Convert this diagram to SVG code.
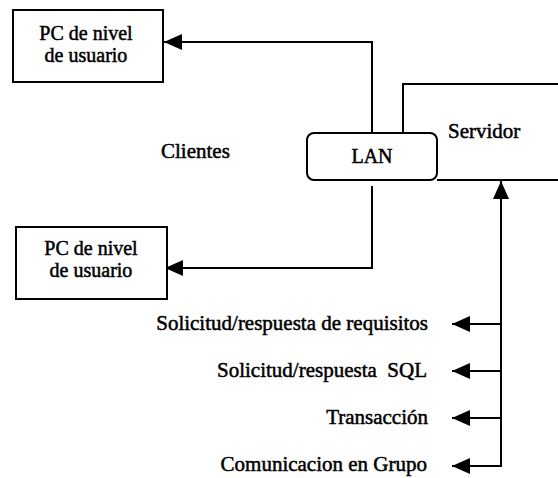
<svg xmlns="http://www.w3.org/2000/svg" width="558" height="478" viewBox="0 0 558 478">
<style>
  .box { fill: #fff; stroke: #000; stroke-width: 2; }
  .ln { fill: none; stroke: #000; stroke-width: 2; }
  .t { font-family: "Liberation Serif", "Times New Roman", serif; fill: #000; stroke: #000; stroke-width: 0.5; }
  .s20 { font-size: 20px; }
  .s21 { font-size: 21px; }
</style>
<defs>
  <marker id="arr" markerUnits="userSpaceOnUse" markerWidth="18" markerHeight="16" refX="18" refY="8" orient="auto">
    <path d="M0,0 L18,8 L0,16 Z" fill="#000"/>
  </marker>
</defs>
<rect width="558" height="478" fill="#fff"/>

<g id="servidor">
  <path class="ln" d="M403,133 V84 H558"/>
  <path class="ln" d="M437,180 H558"/>
  <text class="t s21" x="448" y="138">Servidor</text>
</g>

<g id="connectors">
  <path class="ln" d="M372,133 V42 H164" marker-end="url(#arr)"/>
  <path class="ln" d="M372,186 V268 H165" marker-end="url(#arr)"/>
  <path class="ln" d="M501,466 V181" marker-end="url(#arr)"/>
  <path class="ln" d="M501,324 H452" marker-end="url(#arr)"/>
  <path class="ln" d="M501,371 H452" marker-end="url(#arr)"/>
  <path class="ln" d="M501,418 H452" marker-end="url(#arr)"/>
  <path class="ln" d="M502,466 H452" marker-end="url(#arr)"/>
</g>

<g id="pc-top">
  <rect class="box" x="13" y="10" width="150" height="72"/>
  <text class="t s20" x="86" y="40" text-anchor="middle">PC de nivel</text>
  <text class="t s20" x="86" y="62" text-anchor="middle">de usuario</text>
</g>

<g id="pc-bottom">
  <rect class="box" x="16" y="227" width="151" height="72"/>
  <text class="t s20" x="91" y="255" text-anchor="middle">PC de nivel</text>
  <text class="t s20" x="91" y="277" text-anchor="middle">de usuario</text>
</g>

<g id="lan">
  <rect class="box" x="307" y="133" width="130" height="47" rx="7"/>
  <text class="t s20" x="372" y="163" text-anchor="middle">LAN</text>
</g>

<g id="clientes">
  <text class="t s21" x="161" y="158">Clientes</text>
</g>

<g id="labels">
  <text class="t s21" x="428" y="330" text-anchor="end">Solicitud/respuesta de requisitos</text>
  <text class="t s21" x="427" y="377" text-anchor="end" xml:space="preserve">Solicitud/respuesta  SQL</text>
  <text class="t s21" x="428" y="424" text-anchor="end">Transacción</text>
  <text class="t s21" x="427" y="471" text-anchor="end">Comunicacion en Grupo</text>
</g>
</svg>
